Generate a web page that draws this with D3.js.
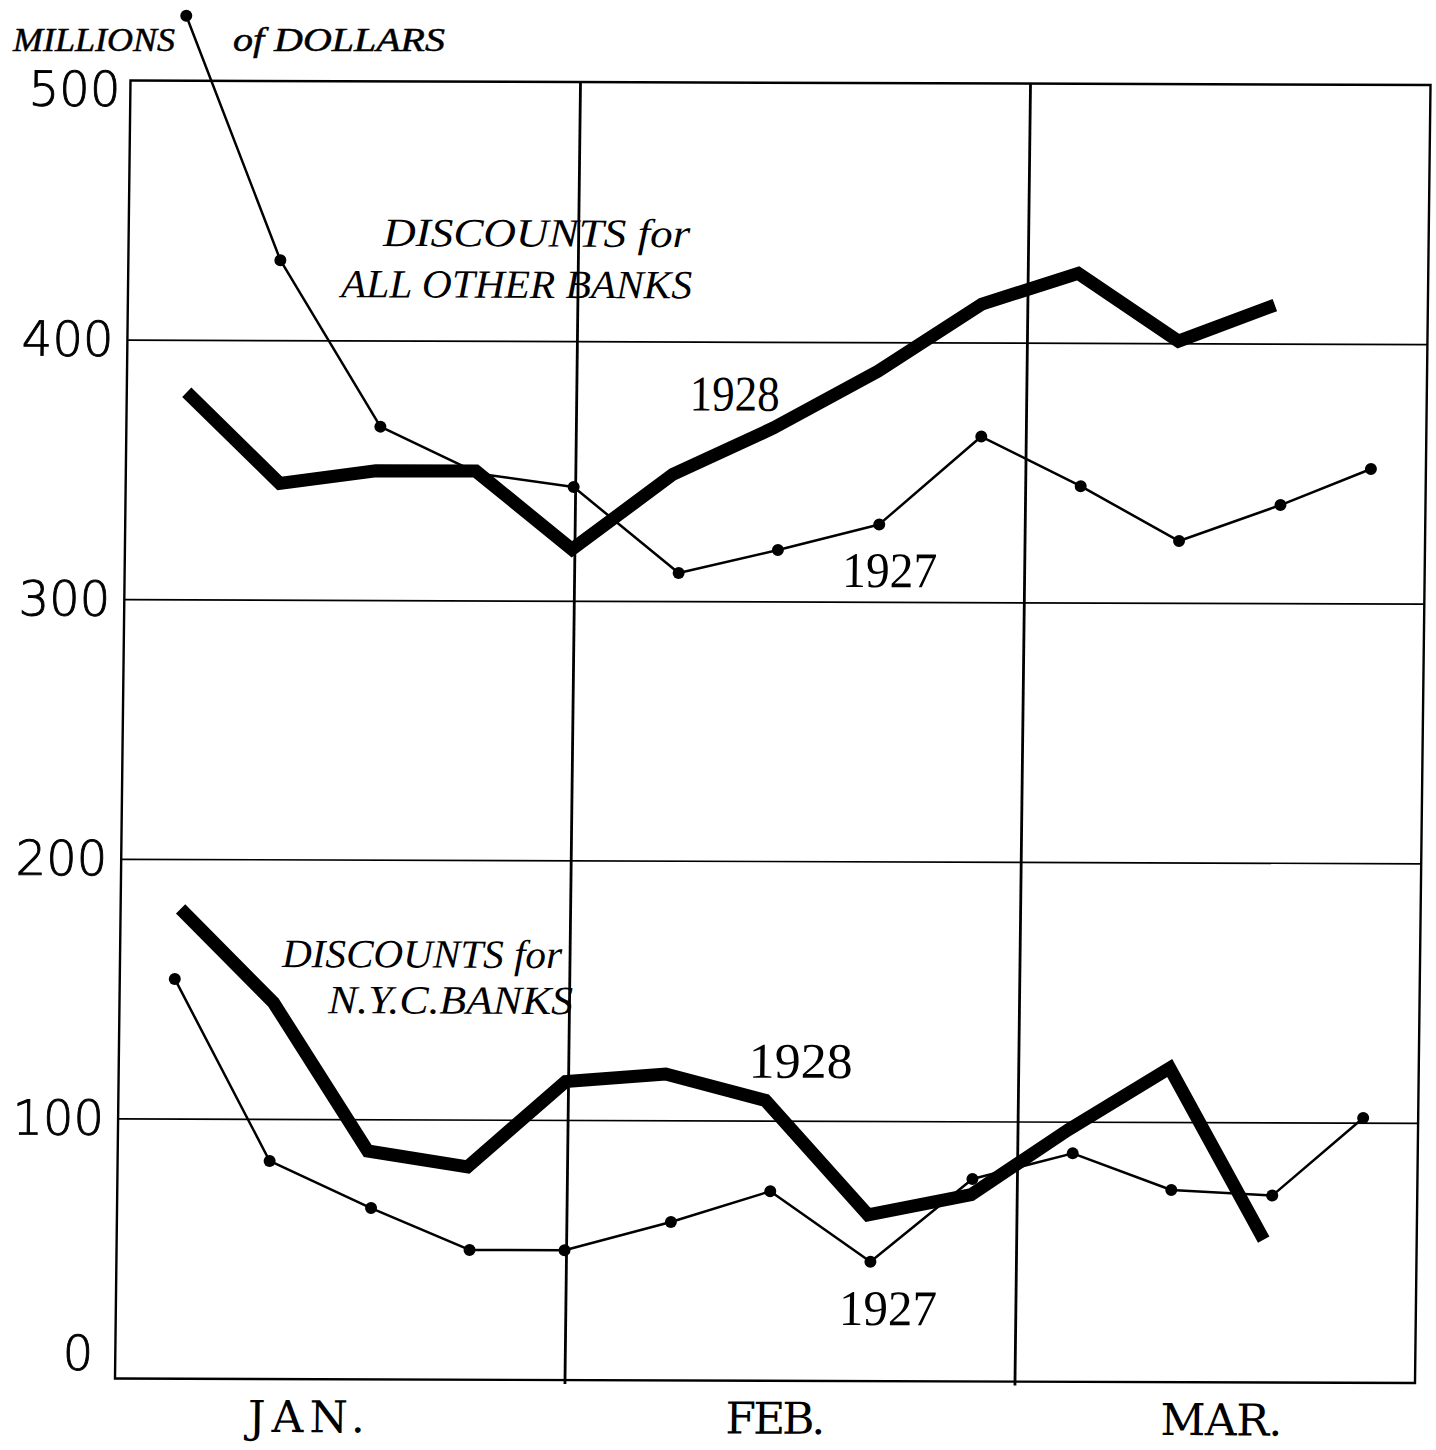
<!DOCTYPE html>
<html><head><meta charset="utf-8">
<script src="https://cdn.jsdelivr.net/npm/d3@7"></script>
<style>html,body{margin:0;padding:0;background:#fff}</style>
</head><body><svg id="c" width="1436" height="1450"></svg>
<script>
// ---- data ----
// weekly report positions, in weeks from the start of January
const weeks1927 = [0.55, 1.52, 2.54, 3.53, 4.48, 5.54, 6.53, 7.54, 8.55, 9.55, 10.54, 11.55, 12.45];
const weeks1928 = [0.60, 1.54, 2.50, 3.50, 4.47, 5.47, 6.47, 7.51, 8.54, 9.50, 10.51, 11.47];
// millions of dollars
const otherBanks1927 = [525, 431, 367, 349, 344, 311, 320, 330, 364, 345, 324, 338, 352];
const otherBanks1928 = [380, 345, 350, 350, 320, 349, 367, 389, 415, 427, 401, 415];
const nycBanks1927 = [154, 84, 66, 50, 50, 61, 73, 46, 78, 88, 74, 72, 102];
const nycBanks1928 = [181, 145, 88, 82, 115, 118, 108, 64, 72, 97, 121, 55];
const yTicks = [0, 100, 200, 300, 400, 500];
const months = ["JAN.", "FEB.", "MAR."];
const monthCenters = [1.92, 6.61, 11.07];   // in weeks
const monthBounds = [4.5, 9.0];            // in weeks
const weekSpan = [0, 13];

// ---- drawing ----
const svg = d3.select("#c");
svg.append("rect").attr("width", 1436).attr("height", 1450).attr("fill", "#fff");

const W = 1300, H = 1298;
const x = d3.scaleLinear().domain(weekSpan).range([0, W]);
const y = d3.scaleLinear().domain([0, 500]).range([H, 0]);

// slight skew of the scanned drawing
const g = svg.append("g").attr("transform", "matrix(1,0.00346,-0.01194,1,130.5,80.5)");

// horizontal grid
g.selectAll("line.grid").data(yTicks.filter(d => d > 0 && d < 500)).join("line")
  .attr("class", "grid")
  .attr("x1", 0).attr("x2", W)
  .attr("y1", d => y(d)).attr("y2", d => y(d))
  .attr("stroke", "#000").attr("stroke-width", 1.7);

// frame
g.append("rect").attr("x", 0).attr("y", 0).attr("width", W).attr("height", H)
  .attr("fill", "none").attr("stroke", "#000").attr("stroke-width", 2.4);

// month dividers
g.selectAll("line.div").data(monthBounds).join("line")
  .attr("class", "div")
  .attr("x1", d => x(d)).attr("x2", d => x(d))
  .attr("y1", 0).attr("y2", H + 4)
  .attr("stroke", "#000").attr("stroke-width", 2.8);

// y axis labels
const ya = g.append("g").call(d3.axisLeft(y).tickValues(yTicks).tickSize(0).tickPadding(14));
ya.select(".domain").remove();
ya.selectAll("text")
  .attr("font-family", "'DejaVu Sans', sans-serif")
  .attr("font-weight", 200)
  .attr("font-size", 48)
  .attr("fill", "#000")
  .attr("stroke", "#000").attr("stroke-width", 0.9)
  .attr("dy", "0.32em");
ya.selectAll(".tick").filter(d => d === 0).select("text").attr("dy", "-0.19em").attr("x", -22);
ya.selectAll(".tick").filter(d => d === 500).select("text").attr("dy", "0.52em").attr("x", -10);

// month labels
g.selectAll("text.month").data(months).join("text")
  .attr("class", "month")
  .attr("x", (d, i) => x(monthCenters[i]))
  .attr("y", H + 53)
  .attr("text-anchor", "middle")
  .attr("font-family", "'DejaVu Serif', serif")
  .attr("font-size", 44)
  .attr("textLength", (d, i) => [117, 100, 122][i])
  .attr("lengthAdjust", "spacing")
  .text(d => d);

// series
const line = d3.line().x(d => x(d[0])).y(d => y(d[1]));
const pair = (ws, vs) => vs.map((v, i) => [ws[i], v]);

const thin = [pair(weeks1927, otherBanks1927), pair(weeks1927, nycBanks1927)];
const thick = [pair(weeks1928, otherBanks1928), pair(weeks1928, nycBanks1928)];

g.selectAll("path.thin").data(thin).join("path")
  .attr("class", "thin")
  .attr("d", line)
  .attr("fill", "none").attr("stroke", "#000").attr("stroke-width", 2.5)
  .attr("stroke-linejoin", "round");

thin.forEach(s => {
  g.append("g").selectAll("circle").data(s).join("circle")
    .attr("cx", d => x(d[0])).attr("cy", d => y(d[1]))
    .attr("r", 6).attr("fill", "#000");
});

g.selectAll("path.thick").data(thick).join("path")
  .attr("class", "thick")
  .attr("d", line)
  .attr("fill", "none").attr("stroke", "#000").attr("stroke-width", 13)
  .attr("stroke-linejoin", "miter").attr("stroke-linecap", "butt");

// annotations
const ital = (t, px, py, len, fs) => g.append("text")
  .attr("x", px).attr("y", py)
  .attr("font-family", "'Liberation Serif', serif")
  .attr("font-style", "italic")
  .attr("font-size", fs)
  .attr("textLength", len).attr("lengthAdjust", "spacingAndGlyphs")
  .attr("fill", "#000")
  .text(t);
ital("DISCOUNTS for", 254.5, 164.6, 307, 40);
ital("ALL OTHER BANKS", 213, 216, 351, 40);
ital("DISCOUNTS for", 162, 886, 280, 40);
ital("N.Y.C.BANKS", 208.6, 932, 245, 40);

const yr = (t, px, py, len) => g.append("text")
  .attr("x", px).attr("y", py)
  .attr("font-family", "'Liberation Serif', serif")
  .attr("font-size", 50)
  .attr("textLength", len).attr("lengthAdjust", "spacingAndGlyphs")
  .attr("fill", "#000")
  .text(t);
yr("1928", 563, 328, 90);
yr("1927", 717.5, 504, 95);
yr("1928", 630, 995, 104);
yr("1927", 723, 1242, 98);

// unit title
svg.append("text").attr("x", 13).attr("y", 51)
  .attr("font-family", "'Liberation Serif', serif").attr("font-style", "italic")
  .attr("font-size", 33).attr("textLength", 162).attr("lengthAdjust", "spacingAndGlyphs")
  .attr("stroke", "#000").attr("stroke-width", 0.5)
  .text("MILLIONS");
svg.append("text").attr("x", 233).attr("y", 51)
  .attr("font-family", "'Liberation Serif', serif").attr("font-style", "italic")
  .attr("font-size", 33).attr("textLength", 212).attr("lengthAdjust", "spacingAndGlyphs")
  .attr("stroke", "#000").attr("stroke-width", 0.5)
  .text("of DOLLARS");
</script></body></html>
